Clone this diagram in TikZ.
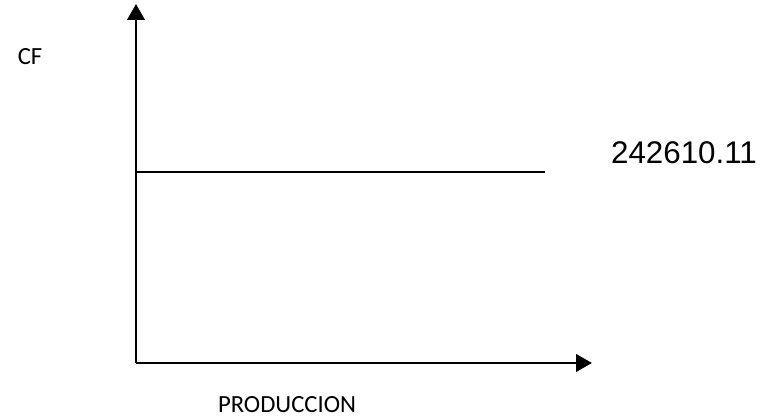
\documentclass[tikz,border=0pt]{standalone}
\usepackage{fontspec}
\setmainfont{Carlito}
\newfontfamily\arialfont{Liberation Sans}
\usetikzlibrary{arrows.meta}
\tikzset{
  axis/.style={line width=2.2pt, -{Triangle[length=12pt,width=13pt]}},
  cfline/.style={line width=1.3pt},
  lbl/.style={inner sep=0pt, font=\fontsize{18.5pt}{22pt}\selectfont},
  val/.style={inner sep=0pt, font=\arialfont\fontsize{23.5pt}{28pt}\selectfont}
}
\begin{document}
\begin{tikzpicture}[x=0.75pt,y=-0.75pt]
\useasboundingbox (0,0) rectangle (760,420);
\coordinate (O) at (136,363);
\coordinate (Ytip) at (136,4);
\coordinate (Xtip) at (592,363);
\coordinate (L0) at (136,172);
\coordinate (L1) at (545,172);
\draw[axis] (O) -- (Ytip);
\draw[axis] (O) -- (Xtip);
\draw[cfline] (L0) -- (L1);
\node[lbl] (cf) at (30,57) {CF};
\node[lbl] (prod) at (287,405) {PRODUCCION};
\node[val] (v) at (684,153) {242610.11};
\end{tikzpicture}
\end{document}
